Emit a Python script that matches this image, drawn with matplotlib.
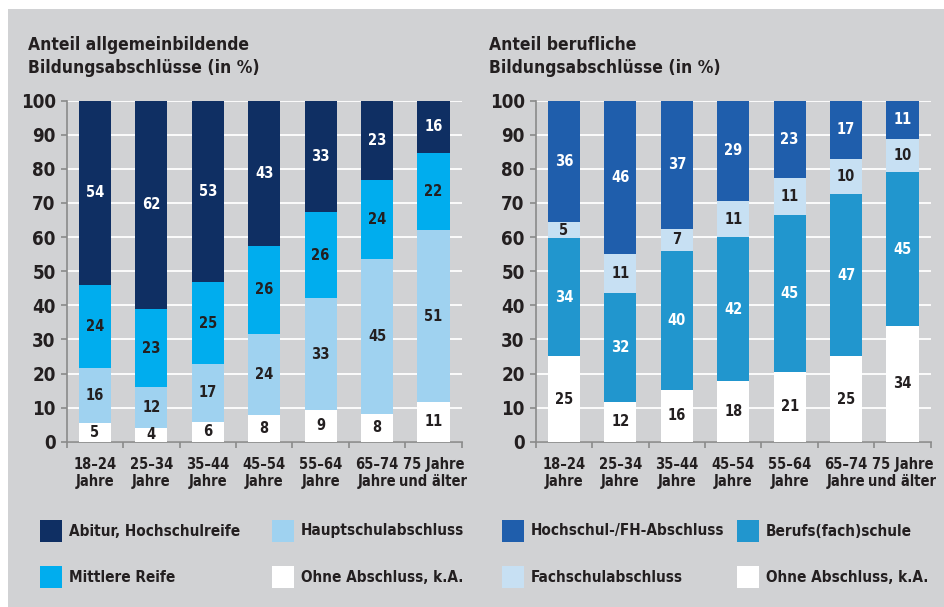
import matplotlib
matplotlib.use("Agg")
import matplotlib.pyplot as plt
from matplotlib.patches import Rectangle

plt.rcParams['font.family'] = ['DejaVu Sans']
plt.rcParams['font.stretch'] = 'condensed'
plt.rcParams['font.weight'] = 'bold'

# age groups
ages = ["18–24\nJahre", "25–34\nJahre", "35–44\nJahre", "45–54\nJahre",
        "55–64\nJahre", "65–74\nJahre", "75 Jahre\nund älter"]

# left panel: allgemeinbildende Abschlüsse (segment heights as read, bottom -> top)
ohne_l = [5.5, 4.0, 5.9, 7.8, 9.3, 8.2, 11.6]
haupt = [16.1, 12.0, 16.8, 23.9, 32.8, 45.4, 50.5]
mittlere = [24.3, 22.9, 24.1, 25.7, 25.2, 23.2, 22.6]
abitur = [54.1, 61.1, 53.2, 42.6, 32.7, 23.2, 15.3]
# printed labels
ohne_l_lab = [5, 4, 6, 8, 9, 8, 11]
haupt_lab = [16, 12, 17, 24, 33, 45, 51]
mittlere_lab = [24, 23, 25, 26, 26, 24, 22]
abitur_lab = [54, 62, 53, 43, 33, 23, 16]

# right panel: berufliche Abschlüsse
ohne_r = [25.0, 11.7, 15.3, 17.7, 20.5, 25.0, 33.9]
berufs = [34.6, 32.0, 40.7, 42.2, 46.1, 47.7, 45.1]
fach = [4.7, 11.2, 6.5, 10.6, 10.7, 10.2, 9.9]
hochschul = [35.7, 45.1, 37.5, 29.5, 22.7, 17.1, 11.1]
ohne_r_lab = [25, 12, 16, 18, 21, 25, 34]
berufs_lab = [34, 32, 40, 42, 45, 47, 45]
fach_lab = [5, 11, 7, 11, 11, 10, 10]
hochschul_lab = [36, 46, 37, 29, 23, 17, 11]

BG = "#d1d2d4"
DARK = "#231f20"
AXC = "#8a8a8a"

left_series = [
    ("Ohne Abschluss, k.A.", ohne_l, ohne_l_lab, "#ffffff", DARK),
    ("Hauptschulabschluss", haupt, haupt_lab, "#9fd2f0", DARK),
    ("Mittlere Reife", mittlere, mittlere_lab, "#00adee", DARK),
    ("Abitur, Hochschulreife", abitur, abitur_lab, "#0f2f63", "white"),
]
right_series = [
    ("Ohne Abschluss, k.A.", ohne_r, ohne_r_lab, "#ffffff", DARK),
    ("Berufs(fach)schule", berufs, berufs_lab, "#2196ce", "white"),
    ("Fachschulabschluss", fach, fach_lab, "#c7e0f3", DARK),
    ("Hochschul-/FH-Abschluss", hochschul, hochschul_lab, "#1f5eac", "white"),
]

fig = plt.figure(figsize=(9.44, 6.07), dpi=100)
fig.patches.append(Rectangle((8 / 944, 0), 1, 1 - 9 / 607, transform=fig.transFigure,
                             facecolor=BG, edgecolor="none", zorder=-10))


def draw_panel(ax, series, title, title_x):
    ax.set_facecolor("none")
    x = list(range(len(ages)))
    bottom = [0.0] * len(ages)
    for name, vals, labs, col, tcol in series:
        ax.bar(x, vals, 0.57, bottom=bottom, color=col, zorder=3, label=name)
        for i in x:
            ax.text(i, bottom[i] + vals[i] / 2, str(labs[i]), ha="center", va="center",
                    color=tcol, fontsize=10.5, fontweight="bold", zorder=4)
        bottom = [b + v for b, v in zip(bottom, vals)]
    ax.set_xlim(-0.5, len(ages) - 0.5)
    ax.set_ylim(0, 100)
    ax.set_yticks(range(0, 101, 10))
    ax.yaxis.grid(True, color="white", linewidth=1.3, zorder=0)
    ax.set_axisbelow(True)
    for s in ["top", "right"]:
        ax.spines[s].set_visible(False)
    for s in ["left", "bottom"]:
        ax.spines[s].set_color(AXC)
        ax.spines[s].set_linewidth(1.2)
    ax.tick_params(axis="y", labelsize=13.5, colors=AXC, labelcolor=DARK,
                   length=4, width=1.2, pad=4)
    ax.set_xticks([i + 0.5 for i in range(-1, len(ages))], minor=False)
    ax.set_xticklabels([])
    ax.tick_params(axis="x", which="major", length=4, width=1.2, colors=AXC)
    ax.set_xticks(x, minor=True)
    ax.set_xticklabels(ages, minor=True, fontsize=10.5, fontweight="bold", color=DARK,
                       linespacing=1.2)
    ax.tick_params(axis="x", which="minor", length=0, pad=11)
    for t in ax.get_yticklabels():
        t.set_fontweight("bold")
    fig.text(title_x, 1 - 36 / 607, title, ha="left", va="top", fontsize=12.5,
             fontweight="bold", color=DARK, linespacing=1.35)


ax1 = fig.add_axes([66.7 / 944, 165.3 / 607, 395 / 944, 341 / 607])
ax2 = fig.add_axes([535.7 / 944, 165.3 / 607, 395 / 944, 341 / 607])
draw_panel(ax1, left_series, "Anteil allgemeinbildende\nBildungsabschlüsse (in %)", 28 / 944)
draw_panel(ax2, right_series, "Anteil berufliche\nBildungsabschlüsse (in %)", 489 / 944)

# legend, drawn by hand in the reference layout
legend_items = [
    (left_series[3], 40, 531), (left_series[2], 40, 577),
    (left_series[1], 272, 531), (left_series[0], 272, 577),
    (right_series[3], 502, 531), (right_series[2], 502, 577),
    (right_series[1], 737, 531), (right_series[0], 737, 577),
]
for (name, _, _, col, _), px, py in legend_items:
    fig.patches.append(Rectangle((px / 944, 1 - (py + 11) / 607), 22 / 944, 22 / 607,
                                 transform=fig.transFigure, facecolor=col,
                                 edgecolor="none"))
    fig.text((px + 29) / 944, 1 - py / 607, name, ha="left", va="center",
             fontsize=11, fontweight="bold", color=DARK)

fig.savefig("out.png", dpi=100, facecolor="white")
